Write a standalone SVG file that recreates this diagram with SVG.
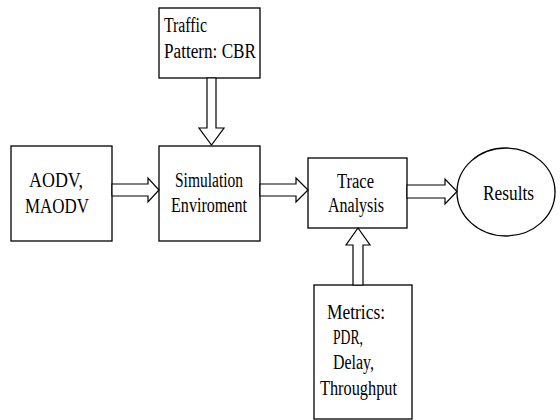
<svg xmlns="http://www.w3.org/2000/svg" width="560" height="420" viewBox="0 0 560 420">
<defs>
<style>
.box{fill:#fff;stroke:#000;stroke-width:1.3}
.arr{fill:#fff;stroke:#000;stroke-width:1.2;stroke-linejoin:miter}
</style>
</defs>
<rect width="560" height="420" fill="#fff"/>
<g id="traffic"><rect class="box" x="159" y="8" width="101" height="70"/>
<text font-family="Liberation Serif" font-size="20" x="164" y="32" textLength="43" lengthAdjust="spacingAndGlyphs">Traffic</text><text font-family="Liberation Serif" font-size="20" x="164" y="58" textLength="92" lengthAdjust="spacingAndGlyphs">Pattern: CBR</text></g>
<g id="aodv"><rect class="box" x="11" y="146" width="101" height="95"/>
<text font-family="Liberation Serif" font-size="20" x="29" y="187" textLength="54" lengthAdjust="spacingAndGlyphs">AODV,</text><text font-family="Liberation Serif" font-size="20" x="25" y="213" textLength="64" lengthAdjust="spacingAndGlyphs">MAODV</text></g>
<g id="sim"><rect class="box" x="159" y="146" width="101" height="95"/>
<text font-family="Liberation Serif" font-size="20" x="175" y="187" textLength="68" lengthAdjust="spacingAndGlyphs">Simulation</text><text font-family="Liberation Serif" font-size="20" x="171" y="212" textLength="76" lengthAdjust="spacingAndGlyphs">Enviroment</text></g>
<g id="trace"><rect class="box" x="308" y="158" width="99" height="70"/>
<text font-family="Liberation Serif" font-size="20" x="337" y="188" textLength="37" lengthAdjust="spacingAndGlyphs">Trace</text><text font-family="Liberation Serif" font-size="20" x="328" y="212" textLength="56" lengthAdjust="spacingAndGlyphs">Analysis</text></g>
<g id="results"><ellipse class="box" cx="506" cy="192" rx="49" ry="44"/>
<text font-family="Liberation Serif" font-size="20" x="483" y="200" textLength="51" lengthAdjust="spacingAndGlyphs">Results</text></g>
<g id="metrics"><rect class="box" x="314" y="285" width="98" height="134"/>
<text font-family="Liberation Serif" font-size="20" x="327" y="319" textLength="58" lengthAdjust="spacingAndGlyphs">Metrics:</text><text font-family="Liberation Serif" font-size="20" x="333" y="344" textLength="30" lengthAdjust="spacingAndGlyphs">PDR,</text><text font-family="Liberation Serif" font-size="20" x="333" y="369" textLength="41" lengthAdjust="spacingAndGlyphs">Delay,</text><text font-family="Liberation Serif" font-size="20" x="320" y="395" textLength="77" lengthAdjust="spacingAndGlyphs">Throughput</text></g>
<g id="connectors">
<polygon class="arr" points="112,184 148,184 148,178 159,190 148,202 148,196 112,196"/>
<polygon class="arr" points="260,184 296,184 296,178 308,190 296,202 296,196 260,196"/>
<polygon class="arr" points="407,185 445,185 445,179 457,191.5 445,204 445,198 407,198"/>
<polygon class="arr" points="207,78 216,78 216,128 224,128 211.5,145 199,128 207,128"/>
<polygon class="arr" points="353,285 363,285 363,245 370,245 358,228 346,245 353,245"/>
</g>
</svg>
